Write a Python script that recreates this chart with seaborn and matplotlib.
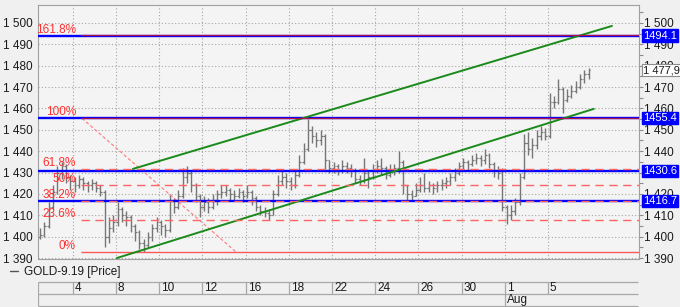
import numpy as np
import pandas as pd
import matplotlib
matplotlib.use("Agg")
import matplotlib.pyplot as plt
from matplotlib.lines import Line2D
from matplotlib.ticker import FuncFormatter, MultipleLocator
import seaborn as sns

# ---------------- data ----------------
close = [1401, 1405, 1414, 1421, 1430, 1433, 1428, 1426, 1424, 1427,
         1425, 1424, 1425, 1423, 1421, 1400, 1404, 1407, 1413, 1410,
         1409, 1405, 1402, 1397, 1396, 1400, 1404, 1407, 1405, 1403,
         1417, 1414, 1419, 1428, 1430, 1424, 1419, 1414, 1416, 1414,
         1417, 1420, 1421, 1422, 1420, 1419, 1421, 1419, 1421, 1418,
         1414, 1412, 1411, 1410, 1420, 1426, 1428, 1426, 1424, 1429,
         1435, 1441, 1450, 1447, 1445, 1447, 1436, 1432, 1433, 1431,
         1433, 1432, 1431, 1427, 1426, 1430, 1428, 1431, 1433, 1432,
         1429, 1431, 1432, 1435, 1424, 1420, 1419, 1422, 1424, 1423,
         1424, 1423, 1424, 1425, 1426, 1428, 1430, 1433, 1435, 1434,
         1436, 1437, 1436, 1438, 1434, 1431, 1430, 1414, 1410, 1412,
         1416, 1428, 1444, 1441, 1443, 1447, 1449, 1447, 1463, 1463,
         1469, 1464, 1466, 1468, 1470, 1474, 1476, 1477.9]
high = [1404, 1407, 1416, 1424, 1433, 1435, 1434, 1429, 1428, 1429,
        1428, 1426, 1427, 1426, 1424, 1422, 1409, 1410, 1416, 1414,
        1412, 1410, 1406, 1403, 1399, 1402, 1406, 1409, 1408, 1406,
        1420, 1418, 1422, 1432, 1433, 1431, 1425, 1420, 1419, 1418,
        1420, 1422, 1424, 1424, 1423, 1422, 1423, 1422, 1424, 1422,
        1419, 1415, 1414, 1413, 1422, 1429, 1431, 1430, 1428, 1431,
        1438, 1444, 1455, 1452, 1449, 1450, 1448, 1436, 1435, 1434,
        1436, 1435, 1434, 1432, 1429, 1437, 1431, 1434, 1436, 1437,
        1433, 1434, 1434, 1440, 1436, 1424, 1422, 1425, 1428, 1430,
        1426, 1425, 1426, 1427, 1428, 1430, 1432, 1435, 1437, 1436,
        1438, 1439, 1438, 1441, 1439, 1435, 1433, 1432, 1415, 1415,
        1418, 1430, 1448, 1449, 1446, 1450, 1452, 1451, 1467, 1466,
        1474, 1470, 1469, 1471, 1473, 1476, 1478, 1479]
low = [1399, 1400, 1404, 1413, 1420, 1427, 1425, 1422, 1421, 1423,
       1422, 1421, 1422, 1421, 1419, 1395, 1397, 1402, 1405, 1407,
       1405, 1402, 1398, 1394, 1393, 1395, 1398, 1402, 1401, 1400,
       1402, 1411, 1413, 1418, 1425, 1421, 1416, 1409, 1412, 1411,
       1413, 1415, 1418, 1419, 1417, 1417, 1418, 1416, 1418, 1415,
       1412, 1410, 1409, 1408, 1410, 1419, 1424, 1423, 1422, 1423,
       1428, 1434, 1440, 1444, 1442, 1443, 1431, 1430, 1430, 1429,
       1430, 1430, 1428, 1425, 1424, 1425, 1423, 1427, 1430, 1429,
       1427, 1428, 1429, 1430, 1420, 1417, 1417, 1419, 1421, 1421,
       1421, 1420, 1421, 1422, 1423, 1424, 1426, 1429, 1431, 1431,
       1433, 1434, 1433, 1434, 1432, 1428, 1427, 1412, 1406, 1408,
       1410, 1415, 1427, 1438, 1437, 1441, 1445, 1445, 1446, 1460,
       1462, 1458, 1463, 1465, 1467, 1469, 1472, 1474]
first_open = 1400

day_labels = ["4", "8", "10", "12", "16", "18", "22", "24", "26", "30", "1", "5"]
month_label = "Aug"
month_at = 10  # index of the day label where the month starts

level_prices = [1494.1, 1455.4, 1430.6, 1416.7]
fib_names = ["0%", "23.6%", "38.2%", "50%", "61.8%", "100%", "161.8%"]
fib_prices = [1392.8, 1407.6, 1416.7, 1424.1, 1431.5, 1455.4, 1494.1]
fib_trend_x = [9.7, 45.4]
fib_trend_y = [1455.4, 1392.8]
upper_x = [21.5, 132.4]
upper_y = [1431.7, 1498.6]
lower_x = [17.8, 128.2]
lower_y = [1390.0, 1459.8]
last_price = 1477.9
series_name = "GOLD-9.19 [Price]"

# ---------------- style ----------------
sns.set_theme(style="white")
plt.rcParams['font.family'] = ['Liberation Sans', 'DejaVu Sans']
FS = 8
TXT = '#1a1a1a'
GRID = '#a6a6a6'

W, H = 680, 307
fig = plt.figure(figsize=(6.8, 3.07), dpi=100, facecolor='#f0f0f0')


def fx(px):
    return px / W


def fy(py):
    return 1 - py / H


ax = fig.add_axes([fx(38), fy(259), fx(639) - fx(38), fy(5) - fy(259)])
ax.set_facecolor('#f4f4f4')
XMIN, XMAX = -0.46, 138.66
ax.set_xlim(XMIN, XMAX)
ax.set_ylim(1389.55, 1508.4)

# grid
for v in range(1390, 1510, 10):
    ax.axhline(v, ls=(0, (1, 2)), color=GRID, lw=0.8, zorder=0.5)
seps = [7.6 + 10 * k for k in range(len(day_labels))]
for s in seps:
    ax.axvline(s, ls=(0, (1, 2)), color=GRID, lw=0.8, zorder=0.5)

# price bars
n = len(close)
x = np.arange(n)
opens = [first_open] + close[:-1]
ax.vlines(x, low, high, color='#767676', lw=1.0, zorder=2)
ax.hlines(close, x, x + 0.4, color='#767676', lw=0.9, zorder=2)
ax.hlines(opens, x - 0.4, x, color='#767676', lw=0.9, zorder=2)

# blue horizontal levels
for p in level_prices:
    ax.axhline(p, color='#0000ff', lw=1.7, zorder=4)

# fibonacci levels
for name, p in zip(fib_names, fib_prices):
    if name == "0%":
        ax.hlines(p, 9.5, XMAX, color='#ff5a5a', lw=1.0, zorder=3)
    elif name in ("100%", "161.8%"):
        ax.hlines(p + 0.25, 9.5, XMAX, color='#b0104a', lw=0.9, zorder=5)
    else:
        ax.hlines(p, 9.5, XMAX, color='#ff6464', lw=1.0, ls=(0, (6, 4)), zorder=5)
    ax.annotate(name, xy=(8.33, p), xytext=(0, 6), textcoords='offset pixels',
                ha='right', va='center', color='#ff3030', fontsize=FS + 0.5, zorder=6)

ax.plot(fib_trend_x, fib_trend_y, color='#ff7a7a', lw=0.8, ls=(0, (3, 2)), zorder=3)

# channel lines
chan = pd.DataFrame({
    "x": upper_x + lower_x,
    "y": upper_y + lower_y,
    "line": ["upper", "upper", "lower", "lower"],
})
sns.lineplot(data=chan, x="x", y="y", units="line", estimator=None,
             color='#1a8a1a', lw=1.4, ax=ax, zorder=4, legend=False)
ax.set_xlabel("")
ax.set_ylabel("")

# axes / ticks
ax.set_xticks([])
ax.yaxis.set_major_locator(MultipleLocator(10))
ax.yaxis.set_minor_locator(MultipleLocator(5))
ax.yaxis.set_major_formatter(FuncFormatter(lambda v, _: f"{int(round(v)):,}".replace(",", " ")))
ax.tick_params(axis='y', which='both', left=False, right=True, labelleft=True,
               labelright=True, length=3, width=0.8, pad=0.8, color='#8c8c8c',
               labelcolor=TXT, labelsize=FS + 0.5)
for sp in ax.spines.values():
    sp.set_color('#a0a0a0')
    sp.set_linewidth(0.8)

# right-side price boxes
tr = ax.get_yaxis_transform()
xb = 1 + 4 / 601
for p in level_prices:
    ax.text(xb, p, f"{p:.1f}", transform=tr, ha='left', va='center', color='white',
            fontsize=FS, clip_on=False, zorder=10,
            bbox=dict(boxstyle='square,pad=0.1', fc='#0000ff', ec='#0000ff'))
ax.text(xb, last_price, f"{last_price:,.1f}".replace(",", " ").replace(".", ","),
        transform=tr, ha='left', va='center', color=TXT, fontsize=FS, clip_on=False,
        zorder=10, bbox=dict(boxstyle='square,pad=0.1', fc='white', ec='#8c8c8c', lw=0.8))

# legend
fig.add_artist(Line2D([fx(10), fx(18)], [fy(271), fy(271)], color='#555555', lw=1.0))
fig.text(fx(24), fy(271.5), series_name, ha='left', va='center', color=TXT, fontsize=FS + 0.5)

# date table
tab = fig.add_axes([fx(38), fy(307), fx(639) - fx(38), fy(281) - fy(307)])
tab.set_xlim(XMIN, XMAX)
tab.set_ylim(26, 0)
tab.axis('off')
for yy in (0.5, 13, 25.2):
    tab.hlines(yy, XMIN, XMAX - 0.3, color='#a8a8a8', lw=0.9)
tab.vlines(XMIN + 0.1, 0.5, 25.2, color='#a8a8a8', lw=0.9)
for k, (s, lab) in enumerate(zip(seps, day_labels)):
    tab.vlines(s, 0.5, 25.2 if k == month_at else 13, color='#a8a8a8', lw=0.9)
    tab.text(s + 0.45, 7.0, lab, ha='left', va='center', color=TXT, fontsize=FS + 0.5)
tab.text(seps[month_at] + 0.45, 19.5, month_label, ha='left', va='center',
         color=TXT, fontsize=FS + 0.5)

fig.savefig("out.png", dpi=100, facecolor=fig.get_facecolor())
